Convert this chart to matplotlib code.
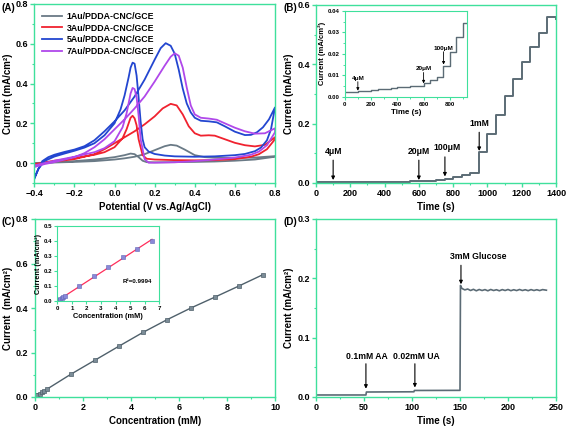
import matplotlib
matplotlib.use("Agg")
import matplotlib.pyplot as plt
import numpy as np
from matplotlib.ticker import MultipleLocator

plt.rcParams['font.family'] = ['Liberation Sans', 'DejaVu Sans']
plt.rcParams['font.weight'] = 'bold'
plt.rcParams['axes.labelweight'] = 'bold'

GREEN = '#3fe09c'

# ---------------- Panel A data (CV curves) ----------------
legend_labels = ['1Au/PDDA-CNC/GCE', '3Au/PDDA-CNC/GCE', '5Au/PDDA-CNC/GCE', '7Au/PDDA-CNC/GCE']
cv_colors = ['#6a7a86', '#f0222f', '#2346d0', '#b048ea']

# gray 1Au
g_fwd_v = [-0.40, -0.30, -0.20, -0.10, 0.00, 0.05, 0.10, 0.15, 0.20, 0.25, 0.28, 0.31, 0.35, 0.40, 0.45, 0.50, 0.60, 0.70, 0.80]
g_fwd_i = [0.000, 0.003, 0.006, 0.010, 0.018, 0.024, 0.032, 0.045, 0.065, 0.085, 0.092, 0.088, 0.068, 0.040, 0.030, 0.027, 0.026, 0.028, 0.035]
g_rev_v = [0.80, 0.70, 0.60, 0.50, 0.40, 0.30, 0.20, 0.16, 0.14, 0.12, 0.10, 0.08, 0.05, 0.00, -0.10, -0.20, -0.30, -0.40]
g_rev_i = [0.032, 0.018, 0.012, 0.008, 0.006, 0.005, 0.004, 0.005, 0.012, 0.030, 0.045, 0.048, 0.040, 0.030, 0.018, 0.010, 0.005, 0.000]

# red 3Au
r_fwd_v = [-0.40, -0.35, -0.30, -0.20, -0.10, -0.05, 0.00, 0.05, 0.10, 0.15, 0.20, 0.24, 0.28, 0.31, 0.34, 0.37, 0.40, 0.43, 0.47, 0.50, 0.55, 0.60, 0.65, 0.70, 0.75, 0.80]
r_fwd_i = [-0.015, 0.000, 0.008, 0.020, 0.045, 0.070, 0.100, 0.130, 0.160, 0.195, 0.235, 0.275, 0.298, 0.290, 0.245, 0.185, 0.150, 0.138, 0.140, 0.138, 0.120, 0.102, 0.090, 0.084, 0.092, 0.130]
r_rev_v = [0.80, 0.76, 0.72, 0.68, 0.60, 0.50, 0.40, 0.30, 0.20, 0.16, 0.14, 0.12, 0.11, 0.10, 0.09, 0.08, 0.06, 0.04, 0.00, -0.05, -0.10, -0.20, -0.30, -0.40]
r_rev_i = [0.120, 0.070, 0.045, 0.032, 0.020, 0.015, 0.014, 0.015, 0.018, 0.022, 0.040, 0.120, 0.190, 0.225, 0.238, 0.228, 0.170, 0.125, 0.080, 0.055, 0.042, 0.025, 0.012, -0.005]

# blue 5Au
b_fwd_v = [-0.40, -0.38, -0.36, -0.33, -0.30, -0.25, -0.20, -0.15, -0.10, -0.05, 0.00, 0.05, 0.10, 0.15, 0.20, 0.23, 0.255, 0.28, 0.30, 0.32, 0.34, 0.36, 0.38, 0.40, 0.43, 0.47, 0.51, 0.55, 0.60, 0.65, 0.68, 0.71, 0.74, 0.77, 0.80]
b_fwd_i = [-0.080, -0.030, 0.010, 0.030, 0.042, 0.056, 0.068, 0.085, 0.115, 0.160, 0.210, 0.265, 0.335, 0.420, 0.520, 0.578, 0.603, 0.590, 0.550, 0.470, 0.375, 0.300, 0.255, 0.228, 0.213, 0.210, 0.205, 0.185, 0.158, 0.141, 0.142, 0.155, 0.180, 0.220, 0.280]
b_rev_v = [0.80, 0.78, 0.76, 0.73, 0.70, 0.65, 0.60, 0.50, 0.40, 0.30, 0.25, 0.20, 0.17, 0.15, 0.14, 0.13, 0.12, 0.11, 0.10, 0.09, 0.08, 0.07, 0.05, 0.03, 0.00, -0.05, -0.10, -0.15, -0.20, -0.25, -0.30, -0.35, -0.38, -0.40]
b_rev_i = [0.280, 0.170, 0.115, 0.078, 0.060, 0.046, 0.040, 0.034, 0.032, 0.034, 0.038, 0.046, 0.058, 0.080, 0.120, 0.210, 0.330, 0.440, 0.500, 0.505, 0.480, 0.430, 0.340, 0.270, 0.200, 0.140, 0.100, 0.078, 0.062, 0.048, 0.033, 0.010, -0.030, -0.075]

# purple 7Au
p_fwd_v = [-0.40, -0.35, -0.30, -0.20, -0.15, -0.10, -0.05, 0.00, 0.05, 0.10, 0.15, 0.20, 0.25, 0.28, 0.30, 0.32, 0.34, 0.36, 0.38, 0.40, 0.43, 0.47, 0.51, 0.55, 0.60, 0.65, 0.70, 0.75, 0.80]
p_fwd_i = [-0.020, -0.005, 0.005, 0.030, 0.050, 0.080, 0.120, 0.170, 0.220, 0.275, 0.335, 0.410, 0.490, 0.535, 0.552, 0.540, 0.480, 0.380, 0.290, 0.245, 0.228, 0.224, 0.218, 0.200, 0.178, 0.160, 0.148, 0.150, 0.175]
p_rev_v = [0.80, 0.76, 0.72, 0.68, 0.60, 0.50, 0.40, 0.30, 0.20, 0.17, 0.15, 0.13, 0.12, 0.11, 0.10, 0.09, 0.08, 0.06, 0.04, 0.00, -0.05, -0.10, -0.20, -0.30, -0.40]
p_rev_i = [0.155, 0.090, 0.058, 0.042, 0.028, 0.018, 0.010, 0.004, 0.002, 0.002, 0.020, 0.120, 0.240, 0.330, 0.372, 0.378, 0.350, 0.250, 0.180, 0.110, 0.075, 0.055, 0.032, 0.012, -0.012]

# ---------------- Panel B data (amperometric steps) ----------------
b_step_time = [0, 100, 150, 200, 250, 300, 350, 400, 450, 500, 550, 600, 650, 700, 750, 800, 850, 900,
               950, 1000, 1050, 1100, 1150, 1200, 1250, 1300, 1350, 1400]
b_step_current = [0.0022, 0.0025, 0.0028, 0.0031, 0.0034, 0.0037, 0.0040, 0.0043, 0.0046, 0.0049, 0.0052,
                  0.0065, 0.0078, 0.0092, 0.0145, 0.0210, 0.0280, 0.0345,
                  0.103, 0.166, 0.229, 0.293, 0.352, 0.409, 0.457, 0.506, 0.558, 0.553]
b_labels = ['4μM', '20μM', '100μM', '1mM']
b_label_time = [100, 600, 752, 952]

# ---------------- Panel C data (calibration) ----------------
c_conc = [0.004, 0.008, 0.012, 0.016, 0.020, 0.024, 0.028, 0.032, 0.036, 0.040, 0.06, 0.08, 0.10,
          0.2, 0.3, 0.4, 0.5, 1.5, 2.5, 3.5, 4.5, 5.5, 6.5, 7.5, 8.5, 9.5]
c_current = [0.0025, 0.0028, 0.0031, 0.0034, 0.0037, 0.0040, 0.0043, 0.0046, 0.0049, 0.0052,
             0.0065, 0.0078, 0.0092, 0.0145, 0.0210, 0.0280, 0.0345,
             0.102, 0.165, 0.228, 0.290, 0.347, 0.400, 0.449, 0.499, 0.550]
r2_text = 'R²=0.9994'

# ---------------- Panel D data (interference) ----------------
d_time = [0, 52, 52.5, 102, 102.5, 150, 150.5, 152, 155, 158, 161, 164, 167, 170, 173, 176, 179, 182, 185,
          188, 191, 194, 197, 200, 203, 206, 209, 212, 215, 218, 221, 224, 227, 230, 233, 236, 240]
d_current = [0.0034, 0.0034, 0.0084, 0.0088, 0.0110, 0.0112, 0.188, 0.183, 0.1805, 0.1820, 0.1795, 0.1815,
             0.1790, 0.1812, 0.1795, 0.1810, 0.1790, 0.1812, 0.1795, 0.1808, 0.1790, 0.1810, 0.1795,
             0.1812, 0.1792, 0.1808, 0.1794, 0.1812, 0.1795, 0.1808, 0.1792, 0.1810, 0.1795, 0.1808,
             0.1794, 0.1810, 0.1800]
d_labels = ['0.1mM AA', '0.02mM UA', '3mM Glucose']
d_label_time = [52, 103, 151]

# ---------------- figure ----------------
fig = plt.figure(figsize=(5.66, 4.29), dpi=100)

W, H = 566.0, 429.0
def rect(l, t, r, b):
    return [l / W, 1 - b / H, (r - l) / W, (b - t) / H]

def style(ax, fs=6.5, major=3, minor=1.6, lw=1.0):
    for s in ax.spines.values():
        s.set_color(GREEN)
        s.set_linewidth(lw)
    ax.tick_params(which='both', direction='out', color=GREEN, top=False, right=False,
                   labelsize=fs, pad=1.5)
    ax.tick_params(which='major', length=major, width=lw)
    ax.tick_params(which='minor', length=minor, width=lw * 0.8)
    for lab in ax.get_xticklabels() + ax.get_yticklabels():
        lab.set_fontweight('bold')

arrow_kw = dict(arrowstyle='-|>', color='black', lw=0.8, mutation_scale=5, shrinkA=0, shrinkB=0)

# Panel A
axA = fig.add_axes(rect(34.3, 4, 275, 183))
for lab, col, fv, fi, rv, ri in zip(legend_labels, cv_colors,
                                    [g_fwd_v, r_fwd_v, b_fwd_v, p_fwd_v],
                                    [g_fwd_i, r_fwd_i, b_fwd_i, p_fwd_i],
                                    [g_rev_v, r_rev_v, b_rev_v, p_rev_v],
                                    [g_rev_i, r_rev_i, b_rev_i, p_rev_i]):
    axA.plot(fv + rv, fi + ri, color=col, lw=1.3, label=lab)
axA.set_xlim(-0.4, 0.8)
axA.set_ylim(-0.1, 0.8)
axA.xaxis.set_major_locator(MultipleLocator(0.2))
axA.xaxis.set_minor_locator(MultipleLocator(0.1))
axA.yaxis.set_major_locator(MultipleLocator(0.2))
axA.yaxis.set_minor_locator(MultipleLocator(0.1))
axA.set_xlabel('Potential (V vs.Ag/AgCl)', fontsize=7, labelpad=3)
axA.set_ylabel('Current (mA/cm²)', fontsize=7, labelpad=2)
leg = axA.legend(loc='upper left', frameon=False, fontsize=6.3, handlelength=2.3,
                 handletextpad=0.5, labelspacing=0.3, borderaxespad=0.2,
                 bbox_to_anchor=(0.01, 0.985))
for t in leg.get_texts():
    t.set_fontweight('bold')
style(axA)

# Panel B
axB = fig.add_axes(rect(316, 5, 556, 183))
axB.plot(b_step_time, b_step_current, drawstyle='steps-post', color='#5b6b75', lw=1.4)
axB.set_xlim(0, 1400)
axB.set_ylim(0, 0.6)
axB.xaxis.set_major_locator(MultipleLocator(200))
axB.xaxis.set_minor_locator(MultipleLocator(100))
axB.yaxis.set_major_locator(MultipleLocator(0.2))
axB.yaxis.set_minor_locator(MultipleLocator(0.1))
axB.set_xlabel('Time (s)', fontsize=7, labelpad=3)
axB.set_ylabel('Current (mA/cm²)', fontsize=7, labelpad=2)
b_text_y = [0.092, 0.092, 0.103, 0.186]
b_arrow_top = [0.077, 0.077, 0.088, 0.171]
b_arrow_bot = [0.010, 0.010, 0.022, 0.108]
for lab, t, ty, at, ab in zip(b_labels, b_label_time, b_text_y, b_arrow_top, b_arrow_bot):
    axB.text(t + (15 if lab == '100μM' else 0), ty, lab, ha='center', va='bottom', fontsize=6.2, fontweight='bold')
    axB.annotate('', xy=(t, ab), xytext=(t, at), arrowprops=arrow_kw)
style(axB)

# Inset B
axBi = fig.add_axes(rect(344.7, 11, 467, 96.7))
axBi.plot(b_step_time, b_step_current, drawstyle='steps-post', color='#5b6b75', lw=1.0)
axBi.set_xlim(0, 930)
axBi.set_ylim(0, 0.04)
axBi.xaxis.set_major_locator(MultipleLocator(200))
axBi.xaxis.set_minor_locator(MultipleLocator(100))
axBi.yaxis.set_major_locator(MultipleLocator(0.01))
axBi.yaxis.set_minor_locator(MultipleLocator(0.005))
axBi.yaxis.set_major_formatter(matplotlib.ticker.FormatStrFormatter('%.2f'))
axBi.set_xlabel('Time (s)', fontsize=5.7, labelpad=2)
axBi.set_ylabel('Current (mA/cm²)', fontsize=5.5, labelpad=1.5)
bi_text_y = [0.0075, 0.0118, 0.0215]
bi_arrow_top = [0.0070, 0.0113, 0.0210]
bi_arrow_bot = [0.0028, 0.0062, 0.0150]
for lab, t, ty, at, ab in zip(b_labels[:3], b_label_time[:3], bi_text_y, bi_arrow_top, bi_arrow_bot):
    axBi.text(t, ty, lab, ha='center', va='bottom', fontsize=4.6, fontweight='bold')
    axBi.annotate('', xy=(t, ab), xytext=(t, at), arrowprops=dict(arrow_kw, mutation_scale=4, lw=0.6))
style(axBi, fs=4.4, major=2, minor=1.1, lw=0.8)

# Panel C
axC = fig.add_axes(rect(34.7, 219, 275, 397))
axC.plot(c_conc, c_current, color='#4f606b', lw=1.0, marker='s', markersize=3.2,
         markerfacecolor='#7b8c97', markeredgecolor='#4f606b', markeredgewidth=0.5)
axC.set_xlim(0, 10)
axC.set_ylim(0, 0.8)
axC.xaxis.set_major_locator(MultipleLocator(2))
axC.xaxis.set_minor_locator(MultipleLocator(1))
axC.yaxis.set_major_locator(MultipleLocator(0.2))
axC.yaxis.set_minor_locator(MultipleLocator(0.1))
axC.set_xlabel('Concentration (mM)', fontsize=7, labelpad=3)
axC.set_ylabel('Current  (mA/cm²)', fontsize=7, labelpad=2)
style(axC)

# Inset C
axCi = fig.add_axes(rect(57.3, 225.7, 159.3, 301.3))
ci_x = [c for c in c_conc if c <= 6.5]
ci_y = c_current[:len(ci_x)]
slope, intercept = np.polyfit(ci_x, ci_y, 1)
fit_x = np.array([0.0, max(ci_x)])
axCi.plot(fit_x, slope * fit_x + intercept, color='#ff2d5a', lw=0.9)
axCi.plot(ci_x, ci_y, ls='none', marker='s', markersize=2.4,
          markerfacecolor='#8a88d8', markeredgecolor='#6065b5', markeredgewidth=0.4)
axCi.set_xlim(0, 7)
axCi.set_ylim(0, 0.5)
axCi.xaxis.set_major_locator(MultipleLocator(1))
axCi.yaxis.set_major_locator(MultipleLocator(0.1))
axCi.set_xlabel('Concentration (mM)', fontsize=5.3, labelpad=1.5)
axCi.set_ylabel('Current (mA/cm²)', fontsize=5.2, labelpad=1.5)
axCi.text(5.5, 0.13, r2_text, ha='center', va='center', fontsize=4.5, fontweight='bold')
style(axCi, fs=4.4, major=2, minor=1.1, lw=0.8)

# Panel D
axD = fig.add_axes(rect(316, 219, 556, 397))
axD.plot(d_time, d_current, color='#5b6b75', lw=1.2)
axD.set_xlim(0, 250)
axD.set_ylim(0, 0.3)
axD.xaxis.set_major_locator(MultipleLocator(50))
axD.xaxis.set_minor_locator(MultipleLocator(25))
axD.yaxis.set_major_locator(MultipleLocator(0.1))
axD.yaxis.set_minor_locator(MultipleLocator(0.05))
axD.set_xlabel('Time (s)', fontsize=7, labelpad=3)
axD.set_ylabel('Current (mA/cm²)', fontsize=7, labelpad=2)
d_text_x = [53, 104.5, 168.5]
d_text_y = [0.061, 0.061, 0.230]
d_arrow_top = [0.056, 0.056, 0.222]
d_arrow_bot = [0.014, 0.016, 0.190]
for lab, t, tx, ty, at, ab in zip(d_labels, d_label_time, d_text_x, d_text_y, d_arrow_top, d_arrow_bot):
    axD.text(tx, ty, lab, ha='center', va='bottom', fontsize=6.2, fontweight='bold')
    axD.annotate('', xy=(t, ab), xytext=(t, at), arrowprops=arrow_kw)
style(axD)

# panel letters
for lbl, x, y in [('(A)', 1, 8), ('(B)', 284, 8), ('(C)', 1, 222), ('(D)', 284, 222)]:
    fig.text(x / W, 1 - y / H, lbl, fontsize=7, fontweight='bold', ha='left', va='center')

fig.savefig('out.png', dpi=100)
